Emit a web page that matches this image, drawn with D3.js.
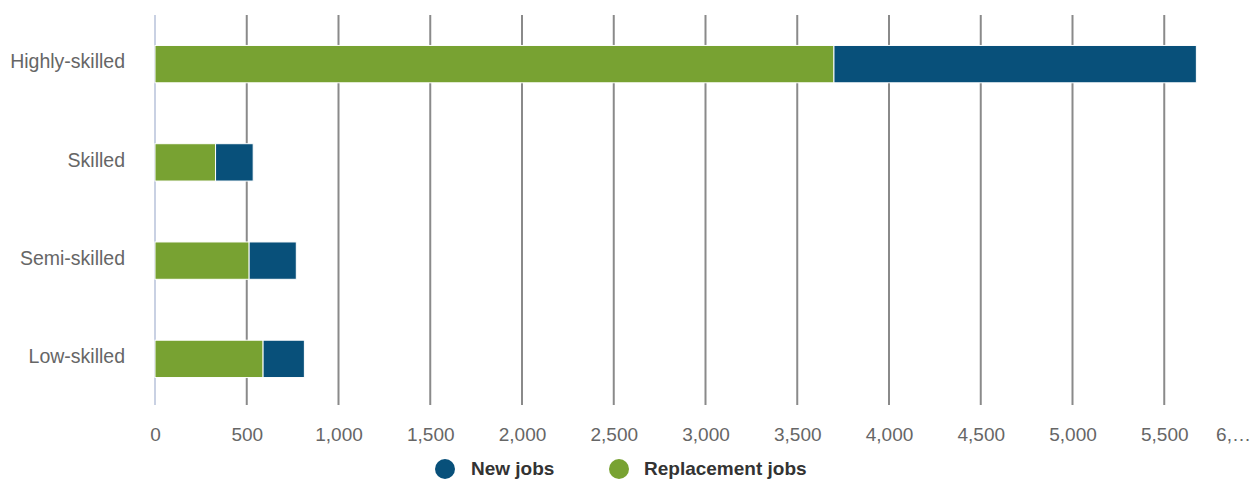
<!DOCTYPE html>
<html>
<head>
<meta charset="utf-8">
<script src="https://cdn.jsdelivr.net/npm/d3@7"></script>
<style>
  body { margin: 0; background: #fff; }
  svg { display: block; font-family: "Liberation Sans", Arial, sans-serif; }
</style>
</head>
<body>
<svg id="chart" width="1250" height="479"></svg>
<script>
const categories = ["Highly-skilled", "Skilled", "Semi-skilled", "Low-skilled"];
const replacementJobs = [3700, 330, 513, 589];
const newJobs = [1975, 205, 257, 225];
const seriesNames = ["New jobs", "Replacement jobs"];
const seriesColors = ["#08507a", "#78a232"];
const xTicks = [0, 500, 1000, 1500, 2000, 2500, 3000, 3500, 4000, 4500, 5000, 5500, 6000];

const svg = d3.select("#chart");
const x = d3.scaleLinear().domain([0, 6000]).range([155, 1256]);
const y = d3.scaleBand().domain(categories).range([15, 408]).paddingInner(0.62).paddingOuter(0.31);

// grid lines
const grid = svg.append("g");
grid.selectAll("line").data(xTicks.filter(d => d > 0)).join("line")
  .attr("x1", d => x(d)).attr("x2", d => x(d))
  .attr("y1", 15).attr("y2", 405)
  .attr("stroke", "#8a8a8a").attr("stroke-width", 2);
grid.append("line")
  .attr("x1", x(0)).attr("x2", x(0)).attr("y1", 15).attr("y2", 405)
  .attr("stroke", "#c9d1e3").attr("stroke-width", 2);

// x axis labels
const xAxis = d3.axisBottom(x).tickValues(xTicks).tickSize(0).tickPadding(0)
  .tickFormat(d => d === 6000 ? "6,…" : d3.format(",")(d));
const gx = svg.append("g").attr("transform", "translate(0,441)").call(xAxis);
gx.select(".domain").remove();
gx.selectAll("text").attr("dy", 0).attr("font-size", 19).attr("fill", "#666")
  .attr("font-family", "Liberation Sans, Arial, sans-serif")
  .attr("dx", d => d === 6000 ? -23 : 0);

// y axis labels
const yAxis = d3.axisLeft(y).tickSize(0).tickPadding(0);
const gy = svg.append("g").attr("transform", "translate(125,-2)").call(yAxis);
gy.select(".domain").remove();
gy.selectAll("text").attr("font-size", 19.5).attr("fill", "#666")
  .attr("font-family", "Liberation Sans, Arial, sans-serif");

// stacked bars
const rows = categories.map((c, i) => ({cat: c, repl: replacementJobs[i], nw: newJobs[i]}));
const bars = svg.append("g");
bars.selectAll("rect.repl").data(rows).join("rect").attr("class", "repl")
  .attr("x", d => x(0)).attr("y", d => y(d.cat))
  .attr("width", d => x(d.repl) - x(0)).attr("height", y.bandwidth())
  .attr("fill", seriesColors[1]).attr("stroke", "#fff").attr("stroke-width", 1);
bars.selectAll("rect.nw").data(rows).join("rect").attr("class", "nw")
  .attr("x", d => x(d.repl)).attr("y", d => y(d.cat))
  .attr("width", d => x(d.repl + d.nw) - x(d.repl)).attr("height", y.bandwidth())
  .attr("fill", seriesColors[0]).attr("stroke", "#fff").attr("stroke-width", 1);

// legend
const legendPos = [{cx: 445, tx: 471}, {cx: 619, tx: 644}];
const lg = svg.append("g");
seriesNames.forEach((name, i) => {
  lg.append("circle").attr("cx", legendPos[i].cx).attr("cy", 469).attr("r", 10)
    .attr("fill", seriesColors[i]);
  lg.append("text").attr("x", legendPos[i].tx).attr("y", 475)
    .attr("font-size", 19).attr("font-weight", "bold").attr("fill", "#333")
    .text(name);
});
</script>
</body>
</html>
